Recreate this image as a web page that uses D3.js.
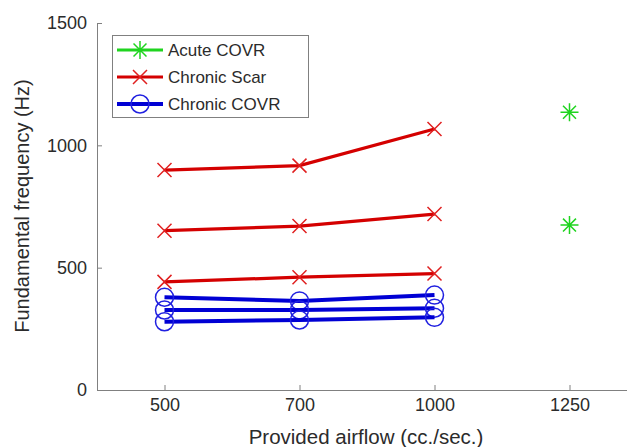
<!DOCTYPE html>
<html>
<head>
<meta charset="utf-8">
<script src="https://cdn.jsdelivr.net/npm/d3@7"></script>
<style>
  body { margin: 0; background: #fff; }
  svg { display: block; overflow: hidden; font-family: "Liberation Sans", Arial, sans-serif; }
</style>
</head>
<body>
<svg id="chart" width="627" height="447"></svg>
<script>
// categories on the x axis (evenly spaced, not numeric)
const airflowLabels = ["500", "700", "1000", "1250"];
const chronicAirflow = ["500", "700", "1000"];
const acuteAirflow = ["1250", "1250"];

// fundamental frequency (Hz) per subject
const scarSeries = [
    [899, 917, 1067],
    [651, 670, 719],
    [442, 461, 476]
];
const covrSeries = [
    [379, 364, 388],
    [327, 327, 334],
    [279, 286, 297]
];
const acuteValues = [1135, 674];

const yTicks = [0, 500, 1000, 1500];
const legendLabels = ["Acute COVR", "Chronic Scar", "Chronic COVR"];

const green = "#1fd41f";
const red = "#d40000";
const blue = "#0000d4";
const axisColor = "#808080";
const textColor = "#2b2b2b";

const svg = d3.select("#chart");

const x = d3.scalePoint()
    .domain(airflowLabels)
    .range([97, 637])
    .padding(0.5);

const y = d3.scaleLinear()
    .domain([0, 1500])
    .range([390, 23]);

// axes (MATLAB style: ticks inward)
const xAxis = svg.append("g")
    .attr("transform", `translate(0,${y(0)})`)
    .call(d3.axisBottom(x).tickSizeInner(-5).tickSizeOuter(0).tickPadding(12));

const yAxis = svg.append("g")
    .attr("transform", `translate(97,0)`)
    .call(d3.axisLeft(y).tickValues(yTicks).tickFormat(d3.format("d"))
        .tickSizeInner(-5).tickSizeOuter(0).tickPadding(10));

[xAxis, yAxis].forEach(ax => {
    ax.select(".domain").attr("stroke", axisColor).attr("stroke-width", 1);
    ax.selectAll(".tick line").attr("stroke", axisColor);
    ax.selectAll(".tick text")
        .attr("fill", textColor)
        .style("font-size", "18px")
        .style("font-family", "'Liberation Sans', Arial, sans-serif");
});
xAxis.selectAll(".tick text").attr("dy", "0.5em");

svg.append("text")
    .attr("x", 366)
    .attr("y", 444)
    .attr("text-anchor", "middle")
    .attr("fill", textColor)
    .style("font-size", "20.5px")
    .text("Provided airflow (cc./sec.)");

svg.append("text")
    .attr("transform", "translate(29,206) rotate(-90)")
    .attr("text-anchor", "middle")
    .attr("fill", textColor)
    .style("font-size", "20px")
    .text("Fundamental frequency (Hz)");

// marker helpers
function crossMark(g, cx, cy, s, color) {
    g.append("path")
        .attr("d", `M${cx - s},${cy - s}L${cx + s},${cy + s}M${cx - s},${cy + s}L${cx + s},${cy - s}`)
        .attr("stroke", color).attr("stroke-width", 1.5).attr("fill", "none");
}
function starMark(g, cx, cy, s, color) {
    const d = s * 0.72;
    g.append("path")
        .attr("d", `M${cx - s},${cy}L${cx + s},${cy}M${cx},${cy - s}L${cx},${cy + s}` +
                   `M${cx - d},${cy - d}L${cx + d},${cy + d}M${cx - d},${cy + d}L${cx + d},${cy - d}`)
        .attr("stroke", color).attr("stroke-width", 1.5).attr("fill", "none");
}
function circleMark(g, cx, cy, r, color) {
    g.append("circle")
        .attr("cx", cx).attr("cy", cy).attr("r", r)
        .attr("stroke", color).attr("stroke-width", 1.5).attr("fill", "none");
}

const line = d3.line()
    .x((d, i) => x(chronicAirflow[i]))
    .y(d => y(d));

const plot = svg.append("g");

scarSeries.forEach(vals => {
    plot.append("path")
        .datum(vals)
        .attr("d", line)
        .attr("stroke", red).attr("stroke-width", 3.2).attr("fill", "none");
    vals.forEach((v, i) => crossMark(plot, x(chronicAirflow[i]), y(v), 7, "#e02020"));
});

covrSeries.forEach(vals => {
    plot.append("path")
        .datum(vals)
        .attr("d", line)
        .attr("stroke", blue).attr("stroke-width", 4).attr("fill", "none");
    vals.forEach((v, i) => circleMark(plot, x(chronicAirflow[i]), y(v), 9, "#2020e0"));
});

acuteValues.forEach((v, i) => starMark(plot, x(acuteAirflow[i]), y(v), 9, green));

// legend
const legend = svg.append("g");
legend.append("rect")
    .attr("x", 112.5).attr("y", 35.5)
    .attr("width", 196).attr("height", 82)
    .attr("fill", "#fff").attr("stroke", axisColor).attr("stroke-width", 1);

const legendColors = [green, red, blue];
const legendWidths = [3.2, 3.2, 4];
legendLabels.forEach((label, i) => {
    const ly = 50 + i * 27;
    legend.append("line")
        .attr("x1", 117).attr("x2", 163).attr("y1", ly).attr("y2", ly)
        .attr("stroke", legendColors[i]).attr("stroke-width", legendWidths[i]);
    if (i === 0) starMark(legend, 140, ly, 9, green);
    if (i === 1) crossMark(legend, 140, ly, 7, "#e02020");
    if (i === 2) circleMark(legend, 140, ly, 9, "#2020e0");
    legend.append("text")
        .attr("x", 168).attr("y", ly)
        .attr("dy", "0.35em")
        .attr("fill", textColor)
        .style("font-size", "17px")
        .text(label);
});
</script>
</body>
</html>
